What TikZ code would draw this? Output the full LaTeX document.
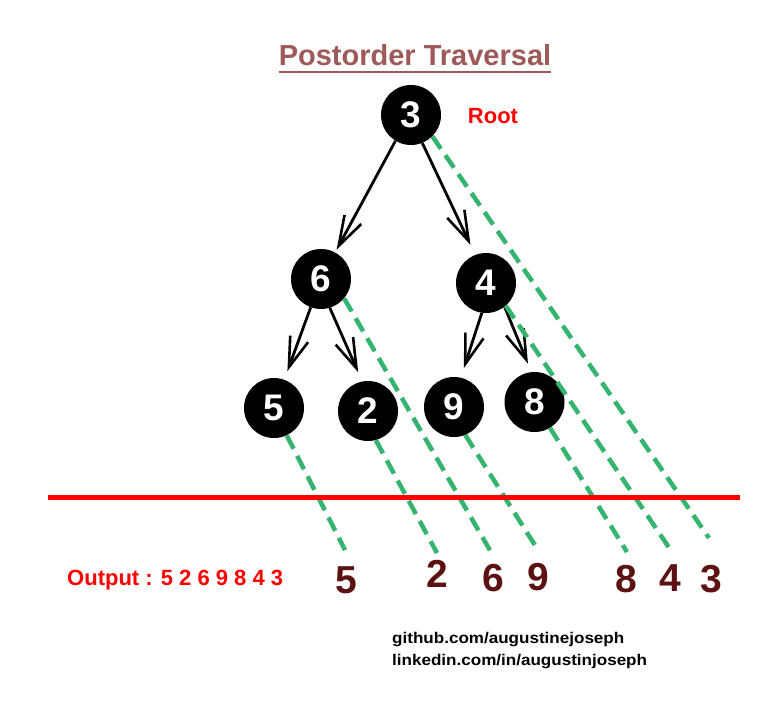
\documentclass[tikz,border=0pt]{standalone}
\usepackage{fontspec}
\setmainfont{Liberation Sans}
\usetikzlibrary{arrows.meta}
\definecolor{titlec}{RGB}{158,90,90}
\definecolor{greenc}{RGB}{52,180,110}
\definecolor{brownc}{RGB}{92,18,18}
\begin{document}
\begin{tikzpicture}[x=1pt,y=-1pt,
  tnode/.style={circle,fill=black,minimum size=60pt,inner sep=0pt,text=white,font=\bfseries\fontsize{37}{37}\selectfont},
  arr/.style={line width=2.8pt,-{Straight Barb[length=30pt,width=19pt,line width=2.6pt]}},
  gdash/.style={greenc,line width=4.5pt,dash pattern=on 15pt off 8pt},
  outd/.style={text=brownc,font=\bfseries\fontsize{39}{39}\selectfont,inner sep=0pt},
  redtxt/.style={text=red,font=\bfseries\fontsize{22}{22}\selectfont,inner sep=0pt},
  credit/.style={font=\bfseries\fontsize{15.5}{15.5}\selectfont,inner sep=0pt,anchor=base west}]
\useasboundingbox (0,0) rectangle (783,702);
\fill[white] (0,0) rectangle (783,702);

% title
\node[anchor=base,inner sep=0pt,text=titlec,font=\bfseries\fontsize{29}{29}\selectfont] (title) at (415,65) {Postorder Traversal};
\draw[titlec,line width=2.5pt] ([yshift=-7pt]title.base west) -- ([yshift=-7pt]title.base east);

% tree nodes
\node[tnode] (n3) at (411,115) {3};
\node[tnode] (n6) at (321,279) {6};
\node[tnode] (n4) at (486,283) {4};
\node[tnode] (n5) at (274,408) {5};
\node[tnode] (n2) at (368,411) {2};
\node[tnode] (n9) at (454,407) {9};
\node[tnode] (n8) at (534.5,402) {8};

\node[redtxt] (root) at (493,116) {Root};

% arrows
\draw[arr,shorten >=3pt] (n3.239) -- (n6.62.6);
\draw[arr,shorten >=11pt] (n3.292) -- (n4.111.5);
\draw[arr,shorten >=9pt] (n6.250) -- (n5.70.6);
\draw[arr,shorten >=10pt] (n6.287) -- (n2.101.6);
\draw[arr,shorten >=10pt] (n4.262) -- (n9.77);
\draw[arr,shorten >=9pt] (n4.308) -- (n8.96.6);

% dashed green lines
\coordinate (e5) at (345,550);
\coordinate (e2) at (437,553);
\coordinate (e6) at (491,552);
\coordinate (e9) at (538,550);
\coordinate (e8) at (627,552);
\coordinate (e4) at (672,552);
\coordinate (e3) at (709,538);
\draw[gdash] (n5.295) -- (e5);
\draw[gdash] (n2.285) -- (e2);
\draw[gdash] (n6.320) -- (e6);
\draw[gdash] (n9.292) -- (e9);
\draw[gdash] (n8.301) -- (e8);
\draw[gdash] (n4.311) -- (e4);
\draw[gdash] (n3.315) -- (e3);

% red line
\coordinate (rl) at (48,497);
\coordinate (rr) at (740,497);
\draw[red,line width=5pt] (rl) -- (rr);

% output
\node[redtxt,anchor=west] (out) at (67,580) {Output : 5 2 6 9 8 4 3};
\node[outd] (o5) at (346.5,580) {5};
\node[outd] (o2) at (437,574) {2};
\node[outd] (o6) at (493,578) {6};
\node[outd] (o9) at (538,577) {9};
\node[outd] (o8) at (626.5,579) {8};
\node[outd] (o4) at (670.5,578) {4};
\node[outd] (o3) at (711.5,579.5) {3};

% credits
\node[credit] (gh) at (392,643) {\scalebox{1.1}[1]{github.com/augustinejoseph}};
\node[credit] (li) at (392,665) {\scalebox{1.1}[1]{linkedin.com/in/augustinjoseph}};
\end{tikzpicture}
\end{document}
